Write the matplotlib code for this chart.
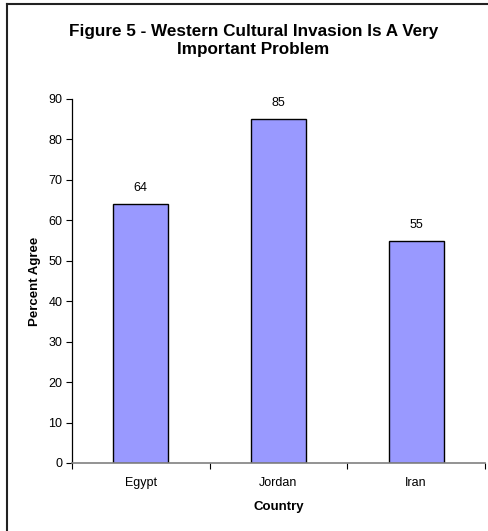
import matplotlib.pyplot as plt
from matplotlib.lines import Line2D

countries = ['Egypt', 'Jordan', 'Iran']
percent_agree = [64, 85, 55]
y_ticks = list(range(0, 100, 10))

plt.rcParams['font.family'] = ['Liberation Sans', 'DejaVu Sans']

fig = plt.figure(figsize=(4.89, 5.31), dpi=100)
ax = fig.add_axes([0.1472, 0.1281, 0.8446, 0.6855])

x = range(len(countries))
bars = ax.bar(x, percent_agree, width=0.4, color='#9999ff',
              edgecolor='black', linewidth=1.0)
for b, v in zip(bars, percent_agree):
    ax.annotate(str(v), (b.get_x() + b.get_width() / 2, v),
                xytext=(0, 7), textcoords='offset points',
                ha='center', va='bottom', fontsize=9)

ax.set_xlim(-0.5, len(countries) - 0.5)
ax.set_ylim(0, 90)
ax.set_yticks(y_ticks)
ax.set_xticks(x)
ax.set_xticklabels(countries, fontsize=9)
ax.tick_params(axis='y', labelsize=9, length=4, width=0.8, pad=3)
ax.tick_params(axis='x', length=0, pad=10)
# category separator ticks on the x axis
ax.set_xticks([-0.5, 0.5, 1.5, 2.5], minor=True)
ax.tick_params(axis='x', which='minor', length=4, width=0.8, color='black')

for side in ['top', 'right']:
    ax.spines[side].set_visible(False)
ax.spines['left'].set_linewidth(0.9)
ax.spines['bottom'].set_color('#808080')
ax.spines['bottom'].set_linewidth(1.2)

ax.set_ylabel('Percent Agree', fontsize=9.5, fontweight='bold', labelpad=5)
ax.set_xlabel('Country', fontsize=9.5, fontweight='bold', labelpad=9)

fig.text(0.518, 0.923, 'Figure 5 - Western Cultural Invasion Is A Very\nImportant Problem',
         ha='center', va='center', fontsize=12.3, fontweight='bold', linespacing=1.25)

# outer frame (left and top edges)
fig.add_artist(Line2D([7.5 / 489, 7.5 / 489], [0, 1 - 3.5 / 531],
                      color='#222222', linewidth=1.5, transform=fig.transFigure))
fig.add_artist(Line2D([7.5 / 489, 1], [1 - 3.5 / 531, 1 - 3.5 / 531],
                      color='#222222', linewidth=1.5, transform=fig.transFigure))

fig.savefig('out.png', dpi=100)
